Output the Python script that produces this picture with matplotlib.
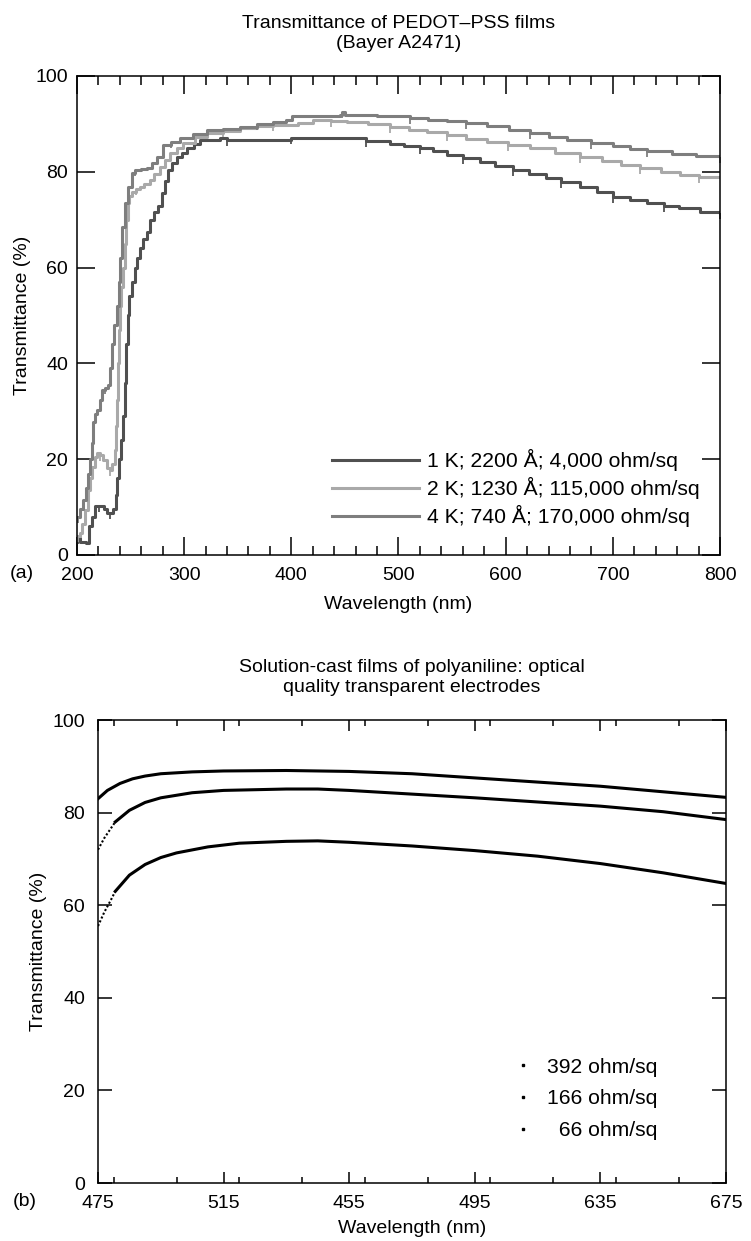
import matplotlib
matplotlib.use("Agg")
import matplotlib.pyplot as plt
from matplotlib.lines import Line2D
from matplotlib.ticker import MultipleLocator, FixedLocator

plt.rcParams["font.family"] = ["Liberation Sans", "DejaVu Sans"]

# (a) PEDOT-PSS films
wl_1k = [200.5, 203, 208, 211, 214, 217, 221, 225, 228, 231, 234, 236, 237.5, 239, 241, 243,
         244.5, 246, 247.5, 249, 251, 254, 256, 259, 262, 265, 268, 272, 276, 279, 282, 285,
         289, 293, 298, 303, 309, 315, 333, 340, 370, 389, 400, 430, 462, 470, 492, 505, 520,
         532, 545, 560, 576, 590, 607, 622, 638, 652, 669, 685, 700, 716, 732, 748, 762, 781, 800]
t_1k = [3.5, 2.7, 2.5, 6, 8, 10.2, 10.2, 9.5, 8.8, 8.8, 9.6, 12.5, 16, 20, 24, 29,
        36, 44, 50, 54, 57, 60, 62, 64, 66, 67.5, 70, 71.5, 72.8, 75.5, 78, 80.4,
        81.8, 83, 84, 85, 85.8, 86.6, 87, 86.6, 86.6, 86.6, 87, 87, 87, 86.4, 85.8, 85.4, 85,
        84.3, 83.5, 82.8, 82, 81.3, 80.4, 79.6, 78.7, 77.8, 76.8, 75.8, 74.7, 74.1, 73.5, 72.9, 72.4, 71.6, 71.4]

wl_2k = [200.5, 202.8, 205, 207.5, 210, 212, 214, 216.5, 218.7, 221.5, 224, 228, 230.8, 233, 235.4,
         236.5, 237.3, 238, 239, 240, 241, 242.5, 244.8, 246, 247.6, 249, 251, 255, 258.8, 263, 268,
         272, 277.4, 282, 286.8, 293, 299, 310, 321, 336, 352, 368, 383, 406, 420, 437, 452, 472,
         492, 510, 526.5, 545, 563, 582.5, 602, 622.6, 646, 669, 690, 708, 725, 745, 762.5, 780, 800]
t_2k = [4, 4.6, 6.5, 9.4, 13.6, 16, 18.4, 20.5, 21.3, 20.9, 19.8, 18.2, 17.7, 19, 21.9,
        27, 32.4, 40, 47, 52, 56, 60, 65, 70, 73.5, 75, 75.8, 76.3, 76.8, 77.5, 78.3,
        79.5, 81, 82.5, 83.9, 85, 86, 87.2, 88.1, 88.6, 89.1, 89.5, 89.8, 90.2, 90.8, 90.6, 90.4, 90,
        89.4, 88.8, 88.3, 87.6, 86.9, 86.2, 85.6, 85, 84, 83.1, 82.3, 81.5, 80.8, 80, 79.3, 78.9, 78.9]

wl_4k = [200.5, 203, 205.6, 208, 210, 212, 214, 215, 217, 218.6, 221.5, 223, 226, 229, 231, 233,
         235, 237, 239, 240.5, 242, 244.8, 247.6, 251, 254, 260, 265, 270, 274.6, 280, 288, 296,
         308, 321, 336, 352, 368, 383, 395, 401, 420, 445, 447, 450, 480, 510.6, 528, 545, 563,
         582.5, 603, 622.6, 640, 657, 680, 700, 716, 732, 755, 778, 800]
t_4k = [8, 9.5, 11.5, 14, 17, 20, 23.4, 27.8, 29.5, 30.3, 32.4, 34.5, 34.8, 35.5, 39, 44,
        48, 52, 57, 62, 68.5, 73.5, 76.8, 79.7, 80.4, 80.6, 80.8, 81.8, 83.1, 85.6, 86.3, 87,
        87.8, 88.7, 89, 89.4, 89.9, 90.4, 90.8, 91.6, 91.7, 91.9, 92.4, 91.9, 91.6, 91.2, 90.9, 90.6, 90.1,
        89.6, 88.8, 88.1, 87.3, 86.6, 85.9, 85.3, 84.8, 84.3, 83.7, 83.2, 83]

labels_a = ["1 K; 2200 Å; 4,000 ohm/sq", "2 K; 1230 Å; 115,000 ohm/sq", "4 K; 740 Å; 170,000 ohm/sq"]
colors_a = ["#505050", "#a9a9a9", "#7e7e7e"]

# (b) polyaniline films; the first few nm are drawn dotted
wl_392 = [475, 478, 482, 486, 490, 495, 505, 515, 535, 555, 575, 595, 615, 635, 655, 675]
t_392 = [83.0, 84.8, 86.3, 87.3, 87.9, 88.4, 88.8, 89.0, 89.1, 88.9, 88.4, 87.5, 86.6, 85.7, 84.5, 83.3]

wl_166_dot = [475, 477, 479, 480.5]
t_166_dot = [72, 74.5, 76.5, 78]
wl_166 = [480.5, 485, 490, 495, 505, 515, 535, 545, 555, 575, 595, 615, 635, 655, 675]
t_166 = [78, 80.5, 82.2, 83.2, 84.3, 84.8, 85.1, 85.1, 84.8, 84.0, 83.2, 82.3, 81.4, 80.2, 78.5]

wl_66_dot = [475, 477, 479, 480.5]
t_66_dot = [55.5, 58.5, 61, 63]
wl_66 = [480.5, 485, 490, 495, 500, 510, 520, 535, 545, 555, 575, 595, 615, 635, 655, 675]
t_66 = [63, 66.5, 68.8, 70.3, 71.3, 72.6, 73.4, 73.8, 73.9, 73.6, 72.8, 71.8, 70.6, 69.0, 67.0, 64.7]

labels_b = ["392 ohm/sq", "166 ohm/sq", "  66 ohm/sq"]
xticks_b = [475, 515, 555, 595, 635, 675]
xticklabels_b = ["475", "515", "455", "495", "635", "675"]

fs = 14
fs_leg = 15.2
fig = plt.figure(figsize=(7.51, 12.41), dpi=100)

# ---- panel (a)
ax1 = fig.add_axes([0.1025, 0.5528, 0.8562, 0.386])
for wl, t, c in zip([wl_1k, wl_2k, wl_4k], [t_1k, t_2k, t_4k], colors_a):
    ax1.plot(wl, t, color=c, lw=2.2, drawstyle="steps-post",
             marker=3, ms=4, mew=1.3, markevery=3)
ax1.set_xlim(200, 800)
ax1.set_ylim(0, 100)
ax1.xaxis.set_major_locator(MultipleLocator(100))
ax1.xaxis.set_minor_locator(MultipleLocator(20))
ax1.yaxis.set_major_locator(MultipleLocator(20))
ax1.tick_params(which="both", direction="in", top=True, right=True, width=1.1, labelsize=fs)
ax1.tick_params(which="major", length=13)
ax1.tick_params(which="minor", length=6.5)
ax1.tick_params(axis="x", pad=8.5)
ax1.tick_params(axis="y", pad=6.5)
for s in ax1.spines.values():
    s.set_linewidth(1.1)
ax1.set_xlabel("Wavelength (nm)", fontsize=fs, labelpad=9)
ax1.set_ylabel("Transmittance (%)", fontsize=fs, labelpad=3)
ax1.set_title("Transmittance of PEDOT\u2013PSS films\n(Bayer A2471)", fontsize=fs, pad=20,
              linespacing=1.25)
handles_a = [Line2D([], [], color=c, lw=2.2) for c in colors_a]
ax1.legend(handles_a, labels_a, loc="upper left", bbox_to_anchor=(0.3966, 0.2205),
           frameon=False, fontsize=fs_leg, handlelength=4.14, handletextpad=0.38,
           labelspacing=0.27, borderpad=0, borderaxespad=0)
fig.text(10 / 751, 1 - 573 / 1241, "(a)", fontsize=fs, ha="left", va="center")

# ---- panel (b)
ax2 = fig.add_axes([0.1305, 0.0467, 0.8362, 0.3731])
ax2.plot(wl_392, t_392, color="black", lw=2.2)
ax2.plot(wl_166_dot, t_166_dot, color="black", lw=1.5, ls=(0, (1, 1)))
ax2.plot(wl_166, t_166, color="black", lw=2.2)
ax2.plot(wl_66_dot, t_66_dot, color="black", lw=1.5, ls=(0, (1, 1)))
ax2.plot(wl_66, t_66, color="black", lw=2.2)
ax2.set_xlim(475, 675)
ax2.set_ylim(0, 100)
ax2.xaxis.set_major_locator(FixedLocator(xticks_b))
ax2.set_xticklabels(xticklabels_b)
ax2.xaxis.set_minor_locator(MultipleLocator(20))
ax2.yaxis.set_major_locator(MultipleLocator(20))
ax2.tick_params(which="both", direction="in", top=True, right=True, width=1.1, labelsize=fs)
ax2.tick_params(axis="x", which="major", length=8)
ax2.tick_params(axis="x", which="minor", length=4.3)
ax2.tick_params(axis="y", which="major", length=10)
ax2.tick_params(axis="x", pad=8.5)
ax2.tick_params(axis="y", pad=9.4)
for s in ax2.spines.values():
    s.set_linewidth(1.1)
ax2.set_xlabel("Wavelength (nm)", fontsize=fs, labelpad=6)
ax2.set_ylabel("Transmittance (%)", fontsize=fs, labelpad=4)
ax2.set_title("Solution-cast films of polyaniline: optical\nquality transparent electrodes",
              fontsize=fs, pad=20, linespacing=1.25)
handles_b = [Line2D([], [], ls="none", marker="s", ms=2, color="black") for _ in labels_b]
ax2.legend(handles_b, labels_b, loc="upper left", bbox_to_anchor=(0.660, 0.271),
           frameon=False, fontsize=fs_leg, handlelength=1.0, handletextpad=0.63,
           labelspacing=0.61, borderpad=0, borderaxespad=0)
fig.text(13 / 751, 1 - 1202 / 1241, "(b)", fontsize=fs, ha="left", va="center")

fig.savefig("out.png", dpi=100)
